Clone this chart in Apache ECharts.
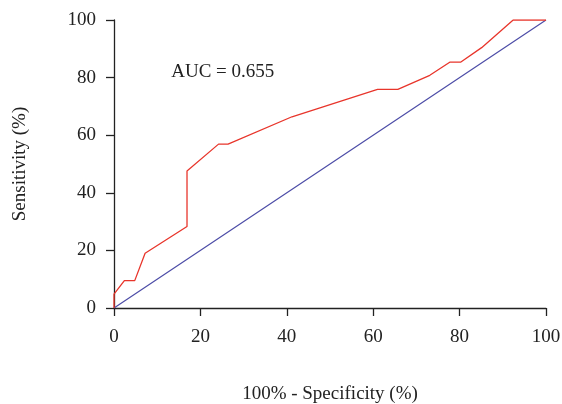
<!DOCTYPE html>
<html>
<head>
<meta charset="utf-8">
<script src="https://cdn.jsdelivr.net/npm/echarts@6/dist/echarts.min.js"></script>
<style>
html,body{margin:0;padding:0;background:#fff;}
#c{width:562px;height:404px;}
</style>
</head>
<body>
<div id="c"></div>
<script>
// 100% - Specificity (%)
const rocX = [0, 0, 2.4, 4.8, 7.2, 16.9, 16.9, 24.2, 26.4, 41.2, 61.0, 65.7, 73.1, 77.8, 80.3, 85.1, 92.4, 100];
// Sensitivity (%)
const rocY = [0, 4.8, 9.5, 9.5, 19.0, 28.3, 47.6, 56.9, 56.9, 66.4, 75.9, 75.9, 80.8, 85.4, 85.4, 90.4, 100, 100];
const refX = [0, 100];
const refY = [0, 100];
const aucLabel = 'AUC = 0.655';
const aucPos = [12.9, 82];

const font = '"Liberation Serif", "DejaVu Serif", serif';
const chart = echarts.init(document.getElementById('c'));
const pair = (xs, ys) => xs.map((x, i) => [x, ys[i]]);
chart.setOption({
  animation: false,
  backgroundColor: '#ffffff',
  grid: {left: 114, right: 16, top: 20, bottom: 96, containLabel: false, outerBoundsMode: 'none'},
  xAxis: {
    type: 'value', min: 0, max: 100, interval: 20,
    name: '100% - Specificity (%)', nameLocation: 'middle', nameGap: 77,
    nameTextStyle: {fontFamily: font, fontSize: 19, color: '#222'},
    axisLine: {lineStyle: {color: '#222', width: 1.3}},
    axisTick: {show: true, length: 8, lineStyle: {color: '#222', width: 1.3}},
    axisLabel: {fontFamily: font, fontSize: 19, color: '#222', margin: 20},
    splitLine: {show: false}
  },
  yAxis: {
    type: 'value', min: 0, max: 100, interval: 20,
    name: 'Sensitivity (%)', nameLocation: 'middle', nameGap: 84,
    nameTextStyle: {fontFamily: font, fontSize: 19, color: '#222'},
    axisLine: {show: true, lineStyle: {color: '#222', width: 1.3}},
    axisTick: {show: true, length: 8, lineStyle: {color: '#222', width: 1.3}},
    axisLabel: {fontFamily: font, fontSize: 19, color: '#222', margin: 18},
    splitLine: {show: false}
  },
  series: [
    {
      type: 'line', data: pair(refX, refY), symbol: 'none',
      lineStyle: {color: '#4a4aa6', width: 1.2}, z: 2
    },
    {
      type: 'line', data: pair(rocX, rocY), symbol: 'none',
      lineStyle: {color: '#e8352b', width: 1.3}, z: 3,
      markPoint: {
        symbol: 'rect', symbolSize: 1,
        itemStyle: {color: 'rgba(0,0,0,0)'},
        data: [{coord: aucPos, value: aucLabel}],
        label: {show: true, position: 'right', offset: [-4, 0], formatter: aucLabel,
                fontFamily: font, fontSize: 19, color: '#222'}
      }
    }
  ]
});
</script>
</body>
</html>
